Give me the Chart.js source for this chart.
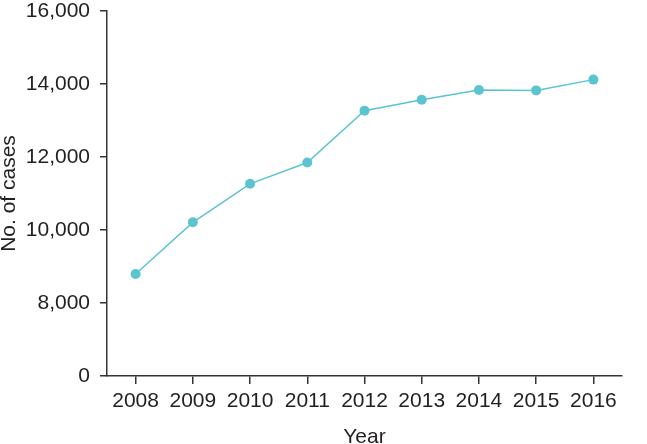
<!DOCTYPE html>
<html>
<head>
<meta charset="utf-8">
<script src="https://cdn.jsdelivr.net/npm/chart.js@4/dist/chart.umd.min.js"></script>
<style>
  html, body { margin: 0; padding: 0; background: #fff; }
</style>
</head>
<body>
<canvas id="myChart" width="647" height="444"></canvas>
<script>
// data
const years = ['2008', '2009', '2010', '2011', '2012', '2013', '2014', '2015', '2016'];
const cases = [8795, 10210, 11265, 11850, 13270, 13570, 13835, 13825, 14120];
// y tick values (6000 is drawn as "0" -> broken axis)
const yTickValues = [6000, 8000, 10000, 12000, 14000, 16000];

const axisColor = '#333333';
const lineColor = '#5bc4d1';
const textColor = '#231f20';
const fontFamily = '"Liberation Sans", Arial, Helvetica, sans-serif';

const config = {
  type: 'line',
  data: {
    labels: years,
    datasets: [{
      label: 'No. of cases',
      data: cases,
      borderColor: lineColor,
      backgroundColor: lineColor,
      borderWidth: 1.5,
      pointRadius: 5,
      pointBorderWidth: 0,
      pointBackgroundColor: lineColor,
      tension: 0,
    }],
  },
  options: {
    responsive: false,
    animation: false,
    layout: { padding: { top: 11, right: 25, left: 0, bottom: 0 } },
    plugins: {
      legend: { display: false },
      tooltip: { enabled: false },
    },
    scales: {
      x: {
        offset: true,
        border: { display: true, color: axisColor, width: 1.5 },
        grid: { drawOnChartArea: false, drawTicks: true, tickLength: 8, color: axisColor, lineWidth: 1.5, offset: false },
        ticks: { color: textColor, padding: 5, font: { family: fontFamily, size: 21 }, maxRotation: 0 },
        title: { display: true, text: 'Year', color: textColor, padding: { top: 0, bottom: 0 }, font: { family: fontFamily, size: 21, lineHeight: 0.6 } },
        afterFit(scale) {
          scale.height = 68;
          scale.paddingLeft = 0;
          scale.paddingRight = 0;
        },
      },
      y: {
        min: 6000,
        max: 16000,
        border: { display: true, color: axisColor, width: 1.5 },
        grid: { drawOnChartArea: false, drawTicks: true, tickLength: 7, color: axisColor, lineWidth: 1.5 },
        afterBuildTicks(scale) {
          scale.ticks = yTickValues.map(v => ({ value: v }));
        },
        ticks: {
          color: textColor,
          padding: 10,
          font: { family: fontFamily, size: 21 },
          callback(value) {
            return value === 6000 ? '0' : value.toLocaleString('en-US'); // 一番下は0と表示
          },
        },
        title: { display: true, text: 'No. of cases', color: textColor, padding: { top: 0, bottom: 0 }, font: { family: fontFamily, size: 21, lineHeight: 0.9 } },
        afterFit(scale) {
          scale.width = 107;
          scale.paddingTop = 0; // 上端ラベルの余白を消す
          scale.paddingBottom = 0;
        },
      },
    },
  },
};

const myChart = new Chart(document.getElementById('myChart'), config);
</script>
</body>
</html>
